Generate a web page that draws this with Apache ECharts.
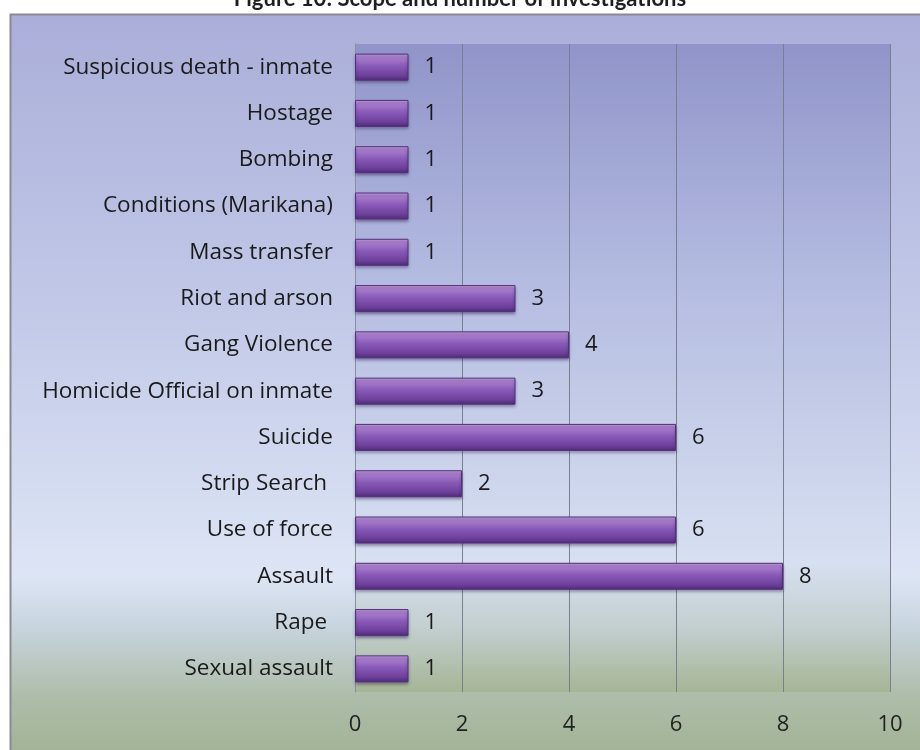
<!DOCTYPE html>
<html>
<head>
<meta charset="utf-8">
<script src="https://cdn.jsdelivr.net/npm/echarts@6/dist/echarts.min.js"></script>
<style>
  html, body { margin: 0; padding: 0; background: #ffffff; }
  #chart { width: 920px; height: 750px; }
</style>
</head>
<body>
<div id="chart"></div>
<script>
// Investigation types, listed top to bottom as shown on the chart
const categories = [
  'Suspicious death - inmate',
  'Hostage',
  'Bombing',
  'Conditions (Marikana)',
  'Mass transfer',
  'Riot and arson',
  'Gang Violence',
  'Homicide Official on inmate',
  'Suicide',
  'Strip Search ',
  'Use of force',
  'Assault',
  'Rape ',
  'Sexual assault'
];
const investigations = [1, 1, 1, 1, 1, 3, 4, 3, 6, 2, 6, 8, 1, 1];
const xTicks = [0, 2, 4, 6, 8, 10];

const FONT = '"Open Sans", sans-serif';

const chart = echarts.init(document.getElementById('chart'), null, { renderer: 'canvas' });

const lin = (stops) => new echarts.graphic.LinearGradient(0, 0, 0, 1, stops);

chart.setOption({
  animation: false,
  graphic: [
    {
      type: 'rect',
      z: -10,
      shape: { x: 10.5, y: 14.5, width: 930, height: 760 },
      style: {
        fill: lin([
          { offset: 0, color: '#aaaed9' },
          { offset: 0.35, color: '#bfc6e6' },
          { offset: 0.74, color: '#dde5f5' },
          { offset: 0.8, color: '#c9d5e0' },
          { offset: 0.9, color: '#adbca8' },
          { offset: 1, color: '#9fb08f' }
        ]),
        stroke: '#8a8a92',
        lineWidth: 2
      }
    },
    {
      type: 'text',
      left: 'center',
      top: -12,
      style: {
        text: 'Figure 10: Scope and number of investigations',
        font: 'bold 22px Lato, "Open Sans", sans-serif',
        fill: '#1f1f1f'
      }
    }
  ],
  grid: {
    left: 355,
    right: 30,
    top: 44,
    bottom: 58,
    show: true,
    borderWidth: 0,
    backgroundColor: lin([
      { offset: 0, color: '#9094c9' },
      { offset: 0.35, color: '#b3bae0' },
      { offset: 0.8, color: '#d7e0f1' },
      { offset: 0.9, color: '#c3cfd0' },
      { offset: 1, color: '#a5b595' }
    ])
  },
  xAxis: {
    type: 'value',
    min: xTicks[0],
    max: xTicks[xTicks.length - 1],
    interval: 2,
    axisLine: { show: false },
    axisTick: { show: false },
    axisLabel: {
      margin: 22,
      fontFamily: FONT,
      fontSize: 22,
      color: '#222'
    },
    splitLine: { show: true, lineStyle: { color: '#7a7f90', width: 1 } }
  },
  yAxis: {
    type: 'category',
    inverse: true,
    data: categories,
    axisLine: { show: true, lineStyle: { color: '#8a8e9c', width: 1 } },
    axisTick: { show: false },
    axisLabel: {
      margin: 22,
      fontFamily: FONT,
      fontSize: 22.5,
      color: '#1a1a1a'
    }
  },
  series: [{
    type: 'bar',
    data: investigations,
    barWidth: 27,
    itemStyle: {
      color: lin([
        { offset: 0, color: '#cba5e4' },
        { offset: 0.15, color: '#a97ecd' },
        { offset: 0.45, color: '#8a5ab8' },
        { offset: 0.8, color: '#6e419c' },
        { offset: 1, color: '#4e2a76' }
      ]),
      borderColor: '#53307c',
      borderWidth: 1,
      shadowColor: 'rgba(40, 20, 70, 0.45)',
      shadowBlur: 3,
      shadowOffsetY: 2
    },
    label: {
      show: true,
      position: 'right',
      distance: 16,
      fontFamily: FONT,
      fontSize: 22,
      color: '#1a1a1a'
    }
  }]
});
</script>
</body>
</html>
